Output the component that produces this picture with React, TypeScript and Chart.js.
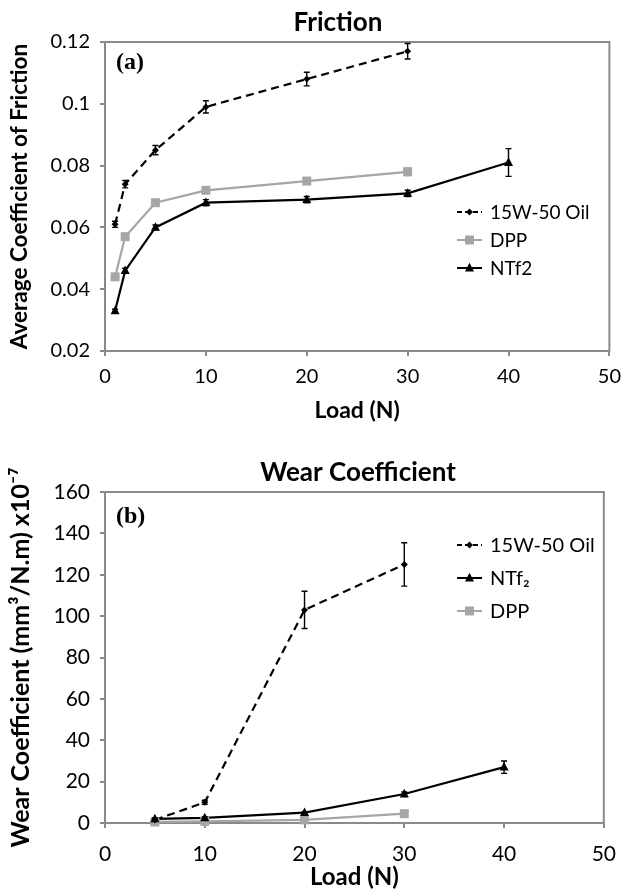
import React, { useEffect, useRef } from "react";
import { Chart, registerables } from "chart.js";
Chart.register(...registerables);

// ---------- Data: Friction panel (a) ----------
const frictionLoadsShort = [1, 2, 5, 10, 20, 30];
const frictionLoadsLong = [1, 2, 5, 10, 20, 30, 40];
const frictionOil = [0.061, 0.074, 0.085, 0.099, 0.108, 0.117];
const frictionOilErr = [0.001, 0.0012, 0.0015, 0.002, 0.0022, 0.0025];
const frictionDPP = [0.044, 0.057, 0.068, 0.072, 0.075, 0.078];
const frictionDPPErr = [0.0005, 0.0005, 0.0008, 0.001, 0.001, 0.0012];
const frictionNTf2 = [0.033, 0.046, 0.06, 0.068, 0.069, 0.071, 0.081];
const frictionNTf2Err = [0.0005, 0.0008, 0.0008, 0.001, 0.001, 0.001, 0.0045];
const frictionYTicks = ["0.02", "0.04", "0.06", "0.08", "0.1", "0.12"];
const loadXTicks = ["0", "10", "20", "30", "40", "50"];

// ---------- Data: Wear panel (b) ----------
const wearLoadsShort = [5, 10, 20, 30];
const wearLoadsLong = [5, 10, 20, 30, 40];
const wearOil = [1.5, 10, 103, 125];
const wearOilErr = [0.5, 1, 9, 10.5];
const wearNTf2 = [2, 2.5, 5, 14, 27];
const wearNTf2Err = [0.5, 0.5, 0.5, 1, 3];
const wearDPP = [0.5, 0.8, 1.5, 4.5];
const wearDPPErr = [0.3, 0.3, 0.3, 0.5];
const wearYTicks = ["0", "20", "40", "60", "80", "100", "120", "140", "160"];

const FONT = "Lato, 'Open Sans', sans-serif";
const AXIS_GRAY = "#8a8a8a";
const DPP_GRAY = "#a6a6a6";

type Marker = "diamond" | "square" | "triangle";

function drawMarker(ctx: CanvasRenderingContext2D, kind: Marker, x: number, y: number, r: number, color: string) {
  ctx.save();
  ctx.fillStyle = color;
  ctx.strokeStyle = color;
  ctx.setLineDash([]);
  ctx.beginPath();
  if (kind === "diamond") {
    ctx.moveTo(x, y - r);
    ctx.lineTo(x + r, y);
    ctx.lineTo(x, y + r);
    ctx.lineTo(x - r, y);
  } else if (kind === "square") {
    ctx.rect(x - r, y - r, 2 * r, 2 * r);
  } else {
    ctx.moveTo(x, y - r * 1.15);
    ctx.lineTo(x + r, y + r * 0.75);
    ctx.lineTo(x - r, y + r * 0.75);
  }
  ctx.closePath();
  ctx.fill();
  ctx.restore();
}

function pts(xs: number[], ys: number[]) {
  return ys.map((y, i) => ({ x: xs[i], y }));
}

type Series = {
  label: string;
  xs: number[];
  ys: number[];
  errs: number[];
  color: string;
  dashed: boolean;
  marker: Marker;
  radius: number;
};

type PanelProps = {
  top: number;
  height: number;
  series: Series[];
  legendOrder: { text: string; idx: number }[];
  yMin: number;
  yMax: number;
  yStep: number;
  yTicks: string[];
  yTitle: string;
  title: string;
  titleX: number;
  titleY: number;
  panelLabel: string;
  panelLabelY: number;
  legendX: number;
  legendY: number;
  legendGap: number;
  legendSize: number;
  tickSize: number;
  xTickPad: number;
  xTitleSize: number;
  xTitlePad: number;
  yTitleSize: number;
  yTitlePad: number;
  pad: { top: number; right: number; bottom: number };
  xAxisHeight: number;
};

function Panel(p: PanelProps) {
  const ref = useRef<HTMLCanvasElement | null>(null);
  useEffect(() => {
    const canvas = ref.current;
    if (!canvas) return;

    const decorPlugin = {
      id: "decor",
      beforeDatasetsDraw(chart: any) {
        const { ctx, chartArea: a } = chart;
        ctx.save();
        ctx.strokeStyle = AXIS_GRAY;
        ctx.lineWidth = 2;
        ctx.strokeRect(a.left, a.top, a.right - a.left, a.bottom - a.top);
        ctx.restore();
      },
      afterDatasetsDraw(chart: any) {
        const { ctx } = chart;
        const yScale = chart.scales.y;
        chart.data.datasets.forEach((_ds: any, di: number) => {
          const meta = chart.getDatasetMeta(di);
          const s: Series = p.series[di];
          meta.data.forEach((el: any, i: number) => {
            const e = s.errs[i];
            const v = s.ys[i];
            const yTop = yScale.getPixelForValue(v + e);
            const yBot = yScale.getPixelForValue(v - e);
            ctx.save();
            ctx.strokeStyle = s.color;
            ctx.lineWidth = 1.4;
            ctx.setLineDash([]);
            ctx.beginPath();
            ctx.moveTo(el.x, yTop);
            ctx.lineTo(el.x, yBot);
            ctx.moveTo(el.x - 3, yTop);
            ctx.lineTo(el.x + 3, yTop);
            ctx.moveTo(el.x - 3, yBot);
            ctx.lineTo(el.x + 3, yBot);
            ctx.stroke();
            ctx.restore();
            drawMarker(ctx, s.marker, el.x, el.y, s.radius, s.color);
          });
        });
      },
      afterDraw(chart: any) {
        const { ctx, chartArea: a } = chart;
        ctx.save();
        ctx.fillStyle = "#000";
        ctx.font = `bold 26px ${FONT}`;
        ctx.textAlign = "center";
        ctx.textBaseline = "middle";
        ctx.fillText(p.title, p.titleX, p.titleY);
        ctx.font = `bold 24px 'Liberation Serif', 'Times New Roman', serif`;
        ctx.textAlign = "left";
        ctx.fillText(p.panelLabel, a.left + 11, a.top + p.panelLabelY);
        ctx.font = `${p.legendSize}px ${FONT}`;
        p.legendOrder.forEach((item, k) => {
          const s = p.series[item.idx];
          const y = p.legendY + k * p.legendGap;
          const x0 = p.legendX;
          const x1 = p.legendX + 25;
          ctx.strokeStyle = s.color;
          ctx.lineWidth = 2;
          ctx.setLineDash(s.dashed ? [5, 3] : []);
          ctx.beginPath();
          ctx.moveTo(x0, y);
          ctx.lineTo(x1, y);
          ctx.stroke();
          ctx.setLineDash([]);
          drawMarker(ctx, s.marker, (x0 + x1) / 2, y, s.radius, s.color);
          ctx.fillStyle = "#000";
          ctx.textAlign = "left";
          ctx.textBaseline = "middle";
          ctx.fillText(item.text, x1 + 8, y + 1);
        });
        ctx.restore();
      },
    };

    const chart = new Chart(canvas, {
      type: "line",
      data: {
        datasets: p.series.map((s) => ({
          label: s.label,
          data: pts(s.xs, s.ys),
          borderColor: s.color,
          backgroundColor: s.color,
          borderWidth: 2.2,
          borderDash: s.dashed ? [8, 5] : [],
          pointRadius: 0,
          pointHoverRadius: 0,
          tension: 0,
          fill: false,
        })),
      },
      options: {
        animation: false,
        responsive: true,
        maintainAspectRatio: false,
        events: [],
        layout: { padding: { left: 0, top: p.pad.top, right: p.pad.right, bottom: p.pad.bottom } },
        plugins: {
          legend: { display: false },
          title: { display: false },
          tooltip: { enabled: false },
        },
        scales: {
          x: {
            type: "linear",
            min: 0,
            max: 50,
            afterFit: (s: any) => {
              s.height = p.xAxisHeight;
            },
            ticks: {
              stepSize: 10,
              padding: p.xTickPad,
              color: "#000",
              font: { family: FONT, size: p.tickSize },
              callback: (_v: any, i: number) => loadXTicks[i],
            },
            grid: { display: true, drawOnChartArea: false, drawTicks: true, tickLength: 5, color: AXIS_GRAY, lineWidth: 2 },
            border: { display: true, color: AXIS_GRAY, width: 2 },
            title: {
              display: true,
              text: "Load (N)",
              color: "#000",
              font: { family: FONT, size: p.xTitleSize, weight: "bold" },
              padding: { top: 0, bottom: p.xTitlePad },
            },
          },
          y: {
            type: "linear",
            min: p.yMin,
            max: p.yMax,
            afterFit: (s: any) => {
              s.width = 105;
            },
            ticks: {
              stepSize: p.yStep,
              padding: 10,
              color: "#000",
              font: { family: FONT, size: p.tickSize },
              callback: (_v: any, i: number) => p.yTicks[i],
            },
            grid: { display: true, drawOnChartArea: false, drawTicks: true, tickLength: 5, color: AXIS_GRAY, lineWidth: 2 },
            border: { display: true, color: AXIS_GRAY, width: 2 },
            title: {
              display: true,
              text: p.yTitle,
              color: "#000",
              font: { family: FONT, size: p.yTitleSize, weight: "bold" },
              padding: { top: p.yTitlePad, bottom: 0 },
            },
          },
        },
      },
      plugins: [decorPlugin],
    } as any);
    return () => chart.destroy();
  }, []);
  return (
    <div style={{ position: "absolute", left: 0, top: p.top, width: 630, height: p.height }}>
      <canvas ref={ref} />
    </div>
  );
}

export default function App() {
  const frictionSeries: Series[] = [
    { label: "15W-50 Oil", xs: frictionLoadsShort, ys: frictionOil, errs: frictionOilErr, color: "#000", dashed: true, marker: "diamond", radius: 3.5 },
    { label: "DPP", xs: frictionLoadsShort, ys: frictionDPP, errs: frictionDPPErr, color: DPP_GRAY, dashed: false, marker: "square", radius: 4.5 },
    { label: "NTf2", xs: frictionLoadsLong, ys: frictionNTf2, errs: frictionNTf2Err, color: "#000", dashed: false, marker: "triangle", radius: 4.5 },
  ];
  const wearSeries: Series[] = [
    { label: "DPP", xs: wearLoadsShort, ys: wearDPP, errs: wearDPPErr, color: DPP_GRAY, dashed: false, marker: "square", radius: 4.5 },
    { label: "NTf₂", xs: wearLoadsLong, ys: wearNTf2, errs: wearNTf2Err, color: "#000", dashed: false, marker: "triangle", radius: 4.5 },
    { label: "15W-50 Oil", xs: wearLoadsShort, ys: wearOil, errs: wearOilErr, color: "#000", dashed: true, marker: "diamond", radius: 3.5 },
  ];
  return (
    <div style={{ position: "fixed", left: 0, top: 0, width: 630, height: 892, background: "#fff", overflow: "hidden" }}>
      <Panel
        top={0}
        height={440}
        series={frictionSeries}
        legendOrder={[
          { text: "15W-50 Oil", idx: 0 },
          { text: "DPP", idx: 1 },
          { text: "NTf2", idx: 2 },
        ]}
        yMin={0.02}
        yMax={0.12}
        yStep={0.02}
        yTicks={frictionYTicks}
        yTitle="Average Coefficient of Friction"
        title="Friction"
        titleX={338}
        titleY={23}
        panelLabel="(a)"
        panelLabelY={21}
        legendX={457}
        legendY={212}
        legendGap={28}
        legendSize={19}
        tickSize={20}
        xTickPad={9}
        xTitleSize={23}
        xTitlePad={1}
        yTitleSize={22.5}
        yTitlePad={6.5}
        pad={{ top: 42, right: 16, bottom: 15 }}
        xAxisHeight={74}
      />
      <Panel
        top={440}
        height={452}
        series={wearSeries}
        legendOrder={[
          { text: "15W-50 Oil", idx: 2 },
          { text: "NTf₂", idx: 1 },
          { text: "DPP", idx: 0 },
        ]}
        yMin={0}
        yMax={160}
        yStep={20}
        yTicks={wearYTicks}
        yTitle="Wear Coefficient (mm³/N.m) x10⁻⁷"
        title="Wear Coefficient"
        titleX={358}
        titleY={33}
        panelLabel="(b)"
        panelLabelY={25}
        legendX={457}
        legendY={105}
        legendGap={33}
        legendSize={20}
        tickSize={21}
        xTickPad={14}
        xTitleSize={24}
        xTitlePad={0}
        yTitleSize={25}
        yTitlePad={6}
        pad={{ top: 52, right: 10, bottom: 0 }}
        xAxisHeight={69}
      />
    </div>
  );
}
